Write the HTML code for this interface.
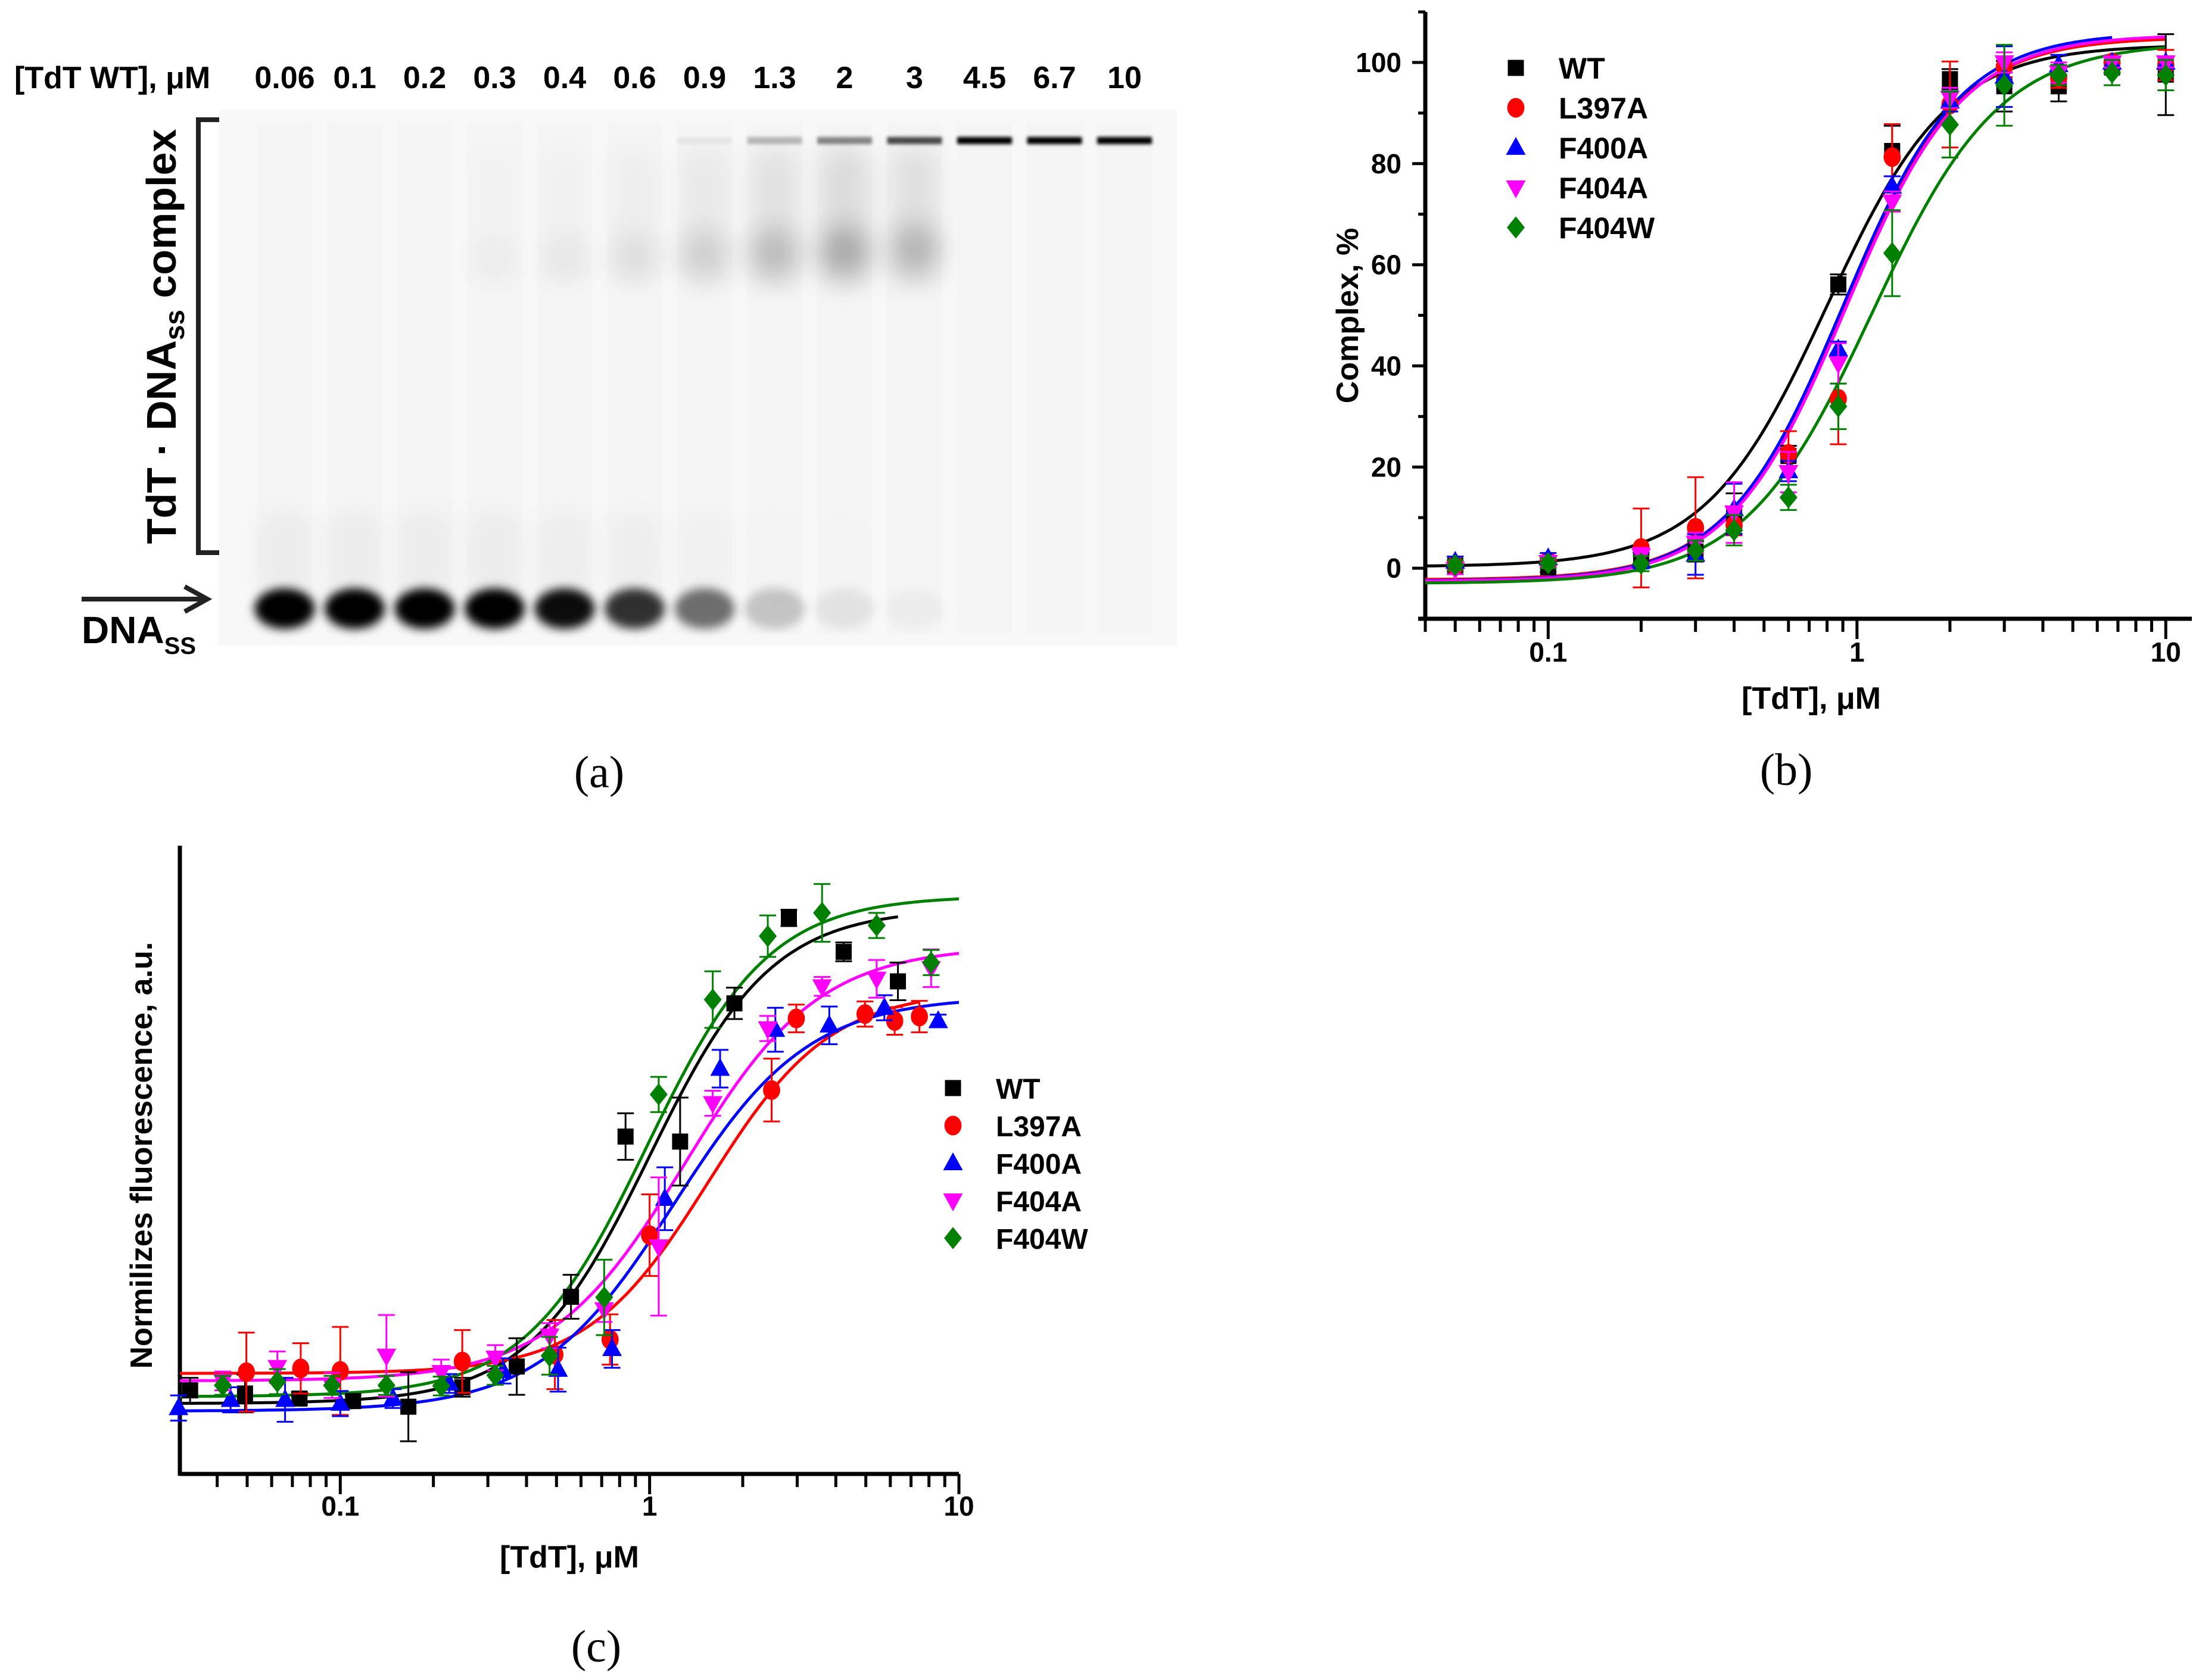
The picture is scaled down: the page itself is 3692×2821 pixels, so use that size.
<!DOCTYPE html>
<html><head><meta charset="utf-8"><style>
html,body{margin:0;padding:0;background:#fff;}
svg{display:block;font-family:"Liberation Sans",sans-serif;}
</style></head><body>
<svg id="fig" width="3692" height="2821" viewBox="0 0 3692 2821" xmlns="http://www.w3.org/2000/svg">
<defs>
<filter id="blur8" x="-50%" y="-50%" width="200%" height="200%"><feGaussianBlur stdDeviation="8"/></filter>
<filter id="blur20" x="-50%" y="-50%" width="200%" height="200%"><feGaussianBlur stdDeviation="22"/></filter>
<filter id="blur3" x="-50%" y="-50%" width="200%" height="200%"><feGaussianBlur stdDeviation="3"/></filter>
</defs>
<g id="gel"></g>
<g id="chartB"></g>
<g id="chartC"></g>
<text x="1006" y="1322" font-family="Liberation Serif,serif" font-size="76" text-anchor="middle">(a)</text>
<text x="2999" y="1318" font-family="Liberation Serif,serif" font-size="76" text-anchor="middle">(b)</text>
<text x="1001" y="2790" font-family="Liberation Serif,serif" font-size="76" text-anchor="middle">(c)</text>
</svg>
<script>
// ---------- data ----------
const laneLabels = ["0.06","0.1","0.2","0.3","0.4","0.6","0.9","1.3","2","3","4.5","6.7","10"];
const freeBand = [1,1,1,1,0.95,0.8,0.55,0.2,0.07,0.03,0,0,0];
const smearBand = [0,0,0,0.03,0.05,0.08,0.14,0.22,0.3,0.25,0,0,0];
const wellBand = [0,0,0,0,0,0,0.05,0.25,0.45,0.7,1,1,1];

const seriesNames = ["WT","L397A","F400A","F404A","F404W"];
const seriesColors = ["#000000","#ff0000","#0000ff","#ff00ff","#008000"];
const seriesShapes = ["square","circle","up","down","diamond"];

const bX = [0.05,0.1,0.2,0.3,0.4,0.6,0.87,1.3,2,3,4.5,6.7,10];
const bWT    = [0.5,0.2,1.6,3.3,10.8,22.2,56.1,82.5,96.7,95.3,95.3,99,97.6];
const bL397A = [0.5,1.4,4,8,8.5,22.6,33.5,81.3,91.7,99.1,97,100,99.5];
const bF400A = [1.3,2,1.5,2.7,11.7,19.2,43.3,75.5,92.3,97.2,99.5,100,100];
const bF404A = [-0.2,1.2,2.5,5,11,19,40.5,72.5,93,100,98,100,100];
const bF404W = [0.6,1.0,0.9,3.5,7.5,14,32,62.3,87.7,95.5,97.5,98,97.5];
const bErrWT    = [1,1,1.5,2,4,2,2,5,2,5,3,1,8];
const bErrL397A = [1,1,7.8,10,2,4.5,9,6.5,8.5,2,2,1,3];
const bErrF400A = [1,1,1.5,4,5,2,1.5,2,2,6,2,1,1];
const bErrF404A = [1,1,1.5,2,6,4,4,2,2,2,2,1,1];
const bErrF404W = [1,1,1.5,2,3,2.5,4.5,8.5,6.5,8,2,2.5,3];
const bYTicks = [0,20,40,60,80,100];
const bXTicks = [0.1,1,10];
const bXTickLabels = ["0.1","1","10"];
// Hill fits: [bottom, top, K, n, xEnd]
const bFitWT    = [0.3,103.5,0.8,2.2,10];
const bFitL397A = [-2.3,105,0.9,2.3,10];
const bFitF400A = [-2.5,106,0.9,2.3,6.7];
const bFitF404A = [-2.6,105.5,0.92,2.3,10];
const bFitF404W = [-3,104,1.12,2.1,10];

const cXWT = [0.0327,0.0492,0.0738,0.110,0.166,0.248,0.372,0.557,0.836,1.255,1.88,2.82,4.24,6.35];
const cWT  = [13.3,12.8,12.0,11.6,10.7,13.8,17.1,28.2,53.7,52.9,74.9,88.5,83.1,78.4];
const cErrWT=[2,3,1,1,5.5,1.5,4.5,3.5,3.7,7,2.5,1.3,1.5,3];
const cXL397A = [0.0497,0.0745,0.1,0.248,0.494,0.745,1.0,2.48,2.98,4.97,6.2,7.45];
const cL397A  = [16.2,16.8,16.4,17.9,19.0,21.4,38.0,61.1,72.5,73.2,72.1,72.8];
const cErrL397A=[6.3,4,7,5,5.5,4,6.5,5,2.2,2,2.2,2.5];
const cXF400A = [0.030,0.0442,0.0663,0.1,0.148,0.225,0.336,0.506,0.756,1.12,1.69,2.55,3.81,5.74,8.57];
const cF400A  = [10.5,11.8,11.8,11.2,12.0,14.4,16.4,16.6,19.9,43.8,64.5,70.7,71.4,74.2,72.1];
const cErrF400A=[2,2,3.5,2,1.5,1.5,2,3.5,3,5,3,3.5,3,2,1];
const cXF404A = [0.0417,0.0626,0.094,0.141,0.212,0.317,0.475,0.713,1.07,1.60,2.41,3.61,5.42,8.13];
const cF404A  = [14.8,17.0,14.1,18.8,16.2,18.5,22.0,26.2,36.2,59.0,70.9,77.6,78.8,80.5];
const cErrF404A=[1.5,2.5,2,6.5,2,2,2,2,11,2,2,1.5,3,3];
const cXF404W = [0.0417,0.0626,0.094,0.141,0.212,0.317,0.475,0.713,1.07,1.60,2.41,3.61,5.42,8.13];
const cF404W  = [14.1,14.7,14.1,14.1,14.0,15.7,18.8,28.1,60.4,75.5,85.6,89.3,87.3,81.4];
const cErrF404W=[1.5,2,1.5,1.5,1.5,1.5,3,6,2.8,4.5,3.3,4.6,2,2];
const cXTicks = [0.1,1,10];
const cXTickLabels = ["0.1","1","10"];
const cFitWT    = [11.2,90,1.0,2.2,6.35];
const cFitL397A = [16,77,1.55,2.2,7.45];
const cFitF400A = [10,76,1.2,2.0,10];
const cFitF404A = [14.8,84,1.3,2.0,10];
const cFitF404W = [12.3,92,0.98,2.2,10];

// ---------- helpers ----------
const NS="http://www.w3.org/2000/svg";
function mk(tag,attrs,parent){const e=document.createElementNS(NS,tag);for(const k in attrs)e.setAttribute(k,attrs[k]);parent.appendChild(e);return e;}
function hill(p,x){return p[0]+(p[1]-p[0])/(1+Math.pow(p[2]/x,p[3]));}
function marker(g,shape,cx,cy,s,color){
  let e;
  if(shape==="square") e=mk("rect",{x:cx-s*0.45,y:cy-s*0.45,width:s*0.9,height:s*0.9,fill:color},g);
  else if(shape==="circle") e=mk("ellipse",{cx:cx,cy:cy,rx:s*0.48,ry:s*0.55,fill:color},g);
  else if(shape==="up") e=mk("polygon",{points:`${cx},${cy-s*0.6} ${cx+s*0.55},${cy+s*0.4} ${cx-s*0.55},${cy+s*0.4}`,fill:color},g);
  else if(shape==="down") e=mk("polygon",{points:`${cx},${cy+s*0.6} ${cx+s*0.55},${cy-s*0.4} ${cx-s*0.55},${cy-s*0.4}`,fill:color},g);
  else e=mk("polygon",{points:`${cx},${cy-s*0.62} ${cx+s*0.5},${cy} ${cx},${cy+s*0.62} ${cx-s*0.5},${cy}`,fill:color},g);
  return e;
}

// ---------- gel ----------
(function(){
  const g=document.getElementById("gel");
  const gx0=367,gx1=1976,gy0=185,gy1=1084;
  const r=mk("rect",{x:gx0,y:gy0,width:gx1-gx0,height:gy1-gy0,fill:"#f8f8f8"},g);
  
  
  const laneStart=478,laneStep=117.5,bw=92;
  laneLabels.forEach((lab,i)=>{
    const cx=laneStart+i*laneStep;
    const t=mk("text",{x:cx,y:148,"font-size":52,"font-weight":"bold","text-anchor":"middle","font-family":"Liberation Sans Narrow,Liberation Sans,sans-serif"},g);
    t.textContent=lab;
    
    
    const lt=mk("rect",{x:cx-bw/2,y:gy0+20,width:bw,height:gy1-gy0-40,fill:"#000",opacity:0.012},g);
    
    
    if(freeBand[i]>0){
      const fb=mk("ellipse",{cx:cx,cy:1022,rx:bw*0.55,ry:34,fill:"#000",opacity:freeBand[i],filter:"url(#blur8)"},g);
      
      
      const tail=mk("rect",{x:cx-bw/2,y:860,width:bw,height:140,fill:"#000",opacity:freeBand[i]*0.035,filter:"url(#blur20)"},g);
      
      
    }
    if(smearBand[i]>0){
      const sb=mk("rect",{x:cx-bw/2+6,y:250,width:bw-12,height:230,fill:"#000",opacity:smearBand[i]*0.35,filter:"url(#blur20)"},g);
      
      
      const sb2=mk("ellipse",{cx:cx,cy:445-i*3,rx:bw*0.45,ry:40,fill:"#000",opacity:smearBand[i]*0.8,filter:"url(#blur20)"},g);
      
      
    }
    if(wellBand[i]>0){
      const wb=mk("rect",{x:cx-bw/2,y:230,width:bw,height:12,fill:"#000",opacity:wellBand[i],filter:"url(#blur3)"},g);
      
      
    }
  });
  const hdr=mk("text",{x:24,y:148,"font-size":52,"font-weight":"bold","font-family":"Liberation Sans Narrow,Liberation Sans,sans-serif"},g);
  hdr.textContent="[TdT WT], μM";
  
  
  const br=mk("path",{d:"M368,201 H333 V928 H368",fill:"none",stroke:"#222","stroke-width":8},g);
  
  
  const ct=mk("text",{x:0,y:0,"font-size":70,"font-weight":"bold",transform:"translate(295,565) rotate(-90)","text-anchor":"middle"},g);
  ct.innerHTML='TdT · DNA<tspan font-size="46" dy="14">ss</tspan><tspan dy="-14"> complex</tspan>';
  
  
  const ar=mk("path",{d:"M137,1006 H345 M310,985 L348,1006 L310,1027",fill:"none",stroke:"#222","stroke-width":8},g);
  
  
  const dt=mk("text",{x:137,y:1080,"font-size":64,"font-weight":"bold","font-family":"Liberation Sans Narrow,Liberation Sans,sans-serif"},g);
  dt.innerHTML='DNA<tspan font-size="40" dy="18">SS</tspan>';
  
  
})();

// ---------- generic chart ----------
function drawChart(cfg){
  const g=document.getElementById(cfg.id);
  const X=v=>cfg.x0+(Math.log10(v)-cfg.lmin)/(cfg.lmax-cfg.lmin)*(cfg.x1-cfg.x0);
  const Y=v=>cfg.yb-(v-cfg.vmin)/(cfg.vmax-cfg.vmin)*(cfg.yb-cfg.yt);
  const ay=mk("line",{x1:cfg.x0,y1:cfg.yt,x2:cfg.x0,y2:cfg.yb+3,stroke:"#000","stroke-width":7},g);
  
  
  const ax=mk("line",{x1:cfg.x0-(cfg.yTicks?12:0),y1:cfg.yb,x2:cfg.x1+(cfg.yTicks?22:0),y2:cfg.yb,stroke:"#000","stroke-width":7},g);
  
  
  for(let d=-2;d<=1;d++){for(let m=1;m<=9;m++){
    const v=m*Math.pow(10,d); const lv=Math.log10(v);
    if(lv<cfg.lmin-1e-6||lv>cfg.lmax+1e-6) continue;
    const major=(m===1);
    const t=mk("line",{x1:X(v),y1:cfg.yb,x2:X(v),y2:cfg.yb+(major?34:22),stroke:"#000","stroke-width":5},g);
    
    
  }}
  cfg.xTicks.forEach((v,i)=>{
    const t=mk("text",{x:X(v),y:cfg.yb+cfg.tickDy,"font-size":46,"font-weight":"bold","text-anchor":"middle","font-family":"Liberation Sans Narrow,Liberation Sans,sans-serif"},g);
    t.textContent=cfg.xTickLabels[i];
    
    
  });
  if(cfg.yTicks){
    for(let v=cfg.vmin;v<=cfg.vmax;v+=10){
      if(v===cfg.vmin) continue;
      const major=(v%20===0);
      const t=mk("line",{x1:cfg.x0,y1:Y(v),x2:cfg.x0-(major?22:12),y2:Y(v),stroke:"#000","stroke-width":5},g);
      
      
    }
    cfg.yTicks.forEach(v=>{
      const t=mk("text",{x:cfg.x0-40,y:Y(v)+16,"font-size":46,"font-weight":"bold","text-anchor":"end","font-family":"Liberation Sans Narrow,Liberation Sans,sans-serif"},g);
      t.textContent=String(v);
      
      
    });
  }
  const xl=mk("text",{x:cfg.xlx,y:cfg.xly,"font-size":52,"font-weight":"bold","text-anchor":"middle"},g);
  xl.textContent="[TdT], μM";
  
  
  const yl=mk("text",{x:0,y:0,"font-size":52,"font-weight":"bold","text-anchor":"middle",transform:`translate(${cfg.ylx},${cfg.yly}) rotate(-90)`},g);
  yl.textContent=cfg.ytitle;
  
  
  cfg.fits.forEach((p,si)=>{
    let d="";
    const l0=cfg.lmin, l1=Math.log10(p[4]);
    for(let k=0;k<=200;k++){const lx=l0+(l1-l0)*k/200;const x=Math.pow(10,lx);d+=(k?"L":"M")+X(x).toFixed(1)+","+Y(hill(p,x)).toFixed(1);}
    const pth=mk("path",{d:d,fill:"none",stroke:seriesColors[si],"stroke-width":5},g);
    
    
  });
  cfg.series.forEach((s,si)=>{
    const col=seriesColors[si];
    s.x.forEach((xv,i)=>{
      const cx=X(xv),cy=Y(s.y[i]),e=s.e[i];
      const eb=mk("path",{d:`M${cx},${Y(s.y[i]+e)} V${Y(s.y[i]-e)} M${cx-14},${Y(s.y[i]+e)} h28 M${cx-14},${Y(s.y[i]-e)} h28`,stroke:col,"stroke-width":3,fill:"none"},g);
      
      
      const m=marker(g,seriesShapes[si],cx,cy,30,col);
      
      
    });
  });
  seriesNames.forEach((n,si)=>{
    const yy=cfg.legY+si*cfg.legStep;
    const m=marker(g,seriesShapes[si],cfg.legX,yy,30,seriesColors[si]);
    
    
    const t=mk("text",{x:cfg.legX+72,y:yy+18,"font-size":cfg.legFont,"font-weight":"bold"},g);
    t.textContent=n;
    
    
  });
}

drawChart({id:"chartB",x0:2393,x1:3658,yt:20,yb:1039,lmin:Math.log10(0.04),lmax:1.042,vmin:-10,vmax:110,
  xTicks:bXTicks,xTickLabels:bXTickLabels,yTicks:bYTicks,tickDy:72,
  xlx:3041,xly:1190,ylx:2280,yly:530,ytitle:"Complex, %",
  fits:[bFitWT,bFitL397A,bFitF400A,bFitF404A,bFitF404W],
  series:[{x:bX,y:bWT,e:bErrWT},{x:bX,y:bL397A,e:bErrL397A},{x:bX,y:bF400A,e:bErrF400A},{x:bX,y:bF404A,e:bErrF404A},{x:bX,y:bF404W,e:bErrF404W}],
  legX:2545,legY:114,legStep:67,legFont:50});

drawChart({id:"chartC",x0:302,x1:1610,yt:1420,yb:2475,lmin:Math.log10(0.0303),lmax:1.0,vmin:0,vmax:100,
  xTicks:cXTicks,xTickLabels:cXTickLabels,yTicks:null,tickDy:70,
  xlx:956,xly:2632,ylx:255,yly:1940,ytitle:"Normilizes fluorescence, a.u.",
  fits:[cFitWT,cFitL397A,cFitF400A,cFitF404A,cFitF404W],
  series:[{x:cXWT,y:cWT,e:cErrWT},{x:cXL397A,y:cL397A,e:cErrL397A},{x:cXF400A,y:cF400A,e:cErrF400A},{x:cXF404A,y:cF404A,e:cErrF404A},{x:cXF404W,y:cF404W,e:cErrF404W}],
  legX:1600,legY:1827,legStep:63,legFont:48});
</script>
</body></html>
